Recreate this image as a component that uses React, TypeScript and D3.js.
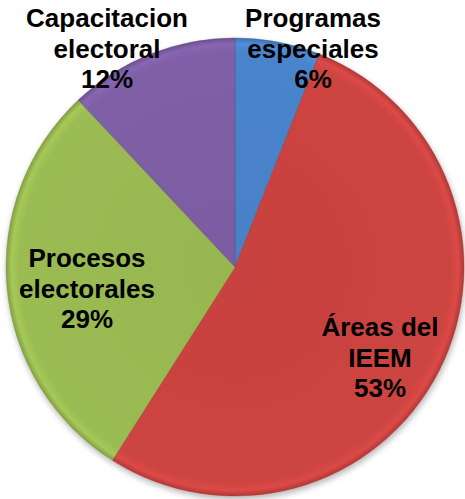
import React from "react";
import * as d3 from "d3";

const categories = ["Programas especiales", "Áreas del IEEM", "Procesos electorales", "Capacitacion electoral"];
const values = [6, 53, 29, 12];
const colors = ["#4a84cc", "#cd4441", "#9bbb52", "#7f5fa6"];
const labelLines = [
  ["Programas", "especiales", "6%"],
  ["Áreas del", "IEEM", "53%"],
  ["Procesos", "electorales", "29%"],
  ["Capacitacion", "electoral", "12%"],
];

const W = 465, H = 499;
const cx = 235, cy = 267, R = 229;

export default function App() {
  const pie = d3.pie<number>().sort(null).value((d) => d)(values);
  const arc = d3.arc<d3.PieArcDatum<number>>().innerRadius(0).outerRadius(R);
  const labelPos: [number, number][] = [
    [313 - cx, 48 - cy],
    [380 - cx, 357 - cy],
    [87 - cx, 288 - cy],
    [107 - cx, 48 - cy],
  ];
  return (
    <div style={{ position: "absolute", left: 0, top: 0 }}>
      <svg width={W} height={H} style={{ display: "block" }}>
        <defs>
          <filter id="shadow" x="-10%" y="-10%" width="120%" height="120%">
            <feGaussianBlur in="SourceAlpha" stdDeviation="3" />
            <feOffset dx="1" dy="3" result="b" />
            <feComponentTransfer><feFuncA type="linear" slope="0.3" /></feComponentTransfer>
            <feMerge><feMergeNode /><feMergeNode in="SourceGraphic" /></feMerge>
          </filter>
          {colors.map((c, i) => {
            const base = d3.color(c)!;
            return (
              <radialGradient key={i} id={`g${i}`} cx={0} cy={0} r={R} gradientUnits="userSpaceOnUse">
                <stop offset="0" stopColor={base.darker(0.08).toString()} />
                <stop offset="0.94" stopColor={c} />
                <stop offset="0.975" stopColor={base.brighter(0.2).toString()} />
                <stop offset="1" stopColor={base.darker(0.45).toString()} />
              </radialGradient>
            );
          })}
        </defs>
        <g transform={`translate(${cx},${cy})`} filter="url(#shadow)">
          {pie.map((p, i) => (
            <path key={categories[i]} d={arc(p)!} fill={`url(#g${i})`}
              stroke={d3.color(colors[i])!.darker(0.6).toString()} strokeWidth={0.8} strokeOpacity={0.6} />
          ))}
        </g>
        <g transform={`translate(${cx},${cy})`}
          fontFamily="'Liberation Sans', Arial, sans-serif" fontWeight="bold" fontSize={26} textAnchor="middle" fill="#000">
          {labelLines.map((lines, i) => (
            <text key={i} x={labelPos[i][0]} y={labelPos[i][1]}>
              {lines.map((t, j) => (
                <tspan key={j} x={labelPos[i][0]} dy={j === 0 ? -21 : 30.5}>{t}</tspan>
              ))}
            </text>
          ))}
        </g>
      </svg>
    </div>
  );
}
